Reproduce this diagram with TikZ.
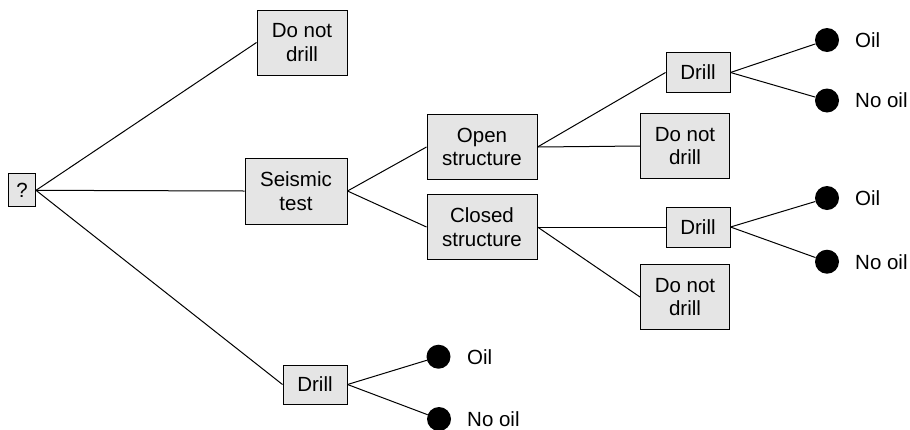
\documentclass[tikz,border=0pt]{standalone}
\usepackage{fontspec}
\setmainfont{Liberation Sans}
\begin{document}
\begin{tikzpicture}[x=1pt,y=-1pt,
  box/.style={draw, line width=1pt, fill=black!10, inner sep=0pt, align=center,
    font=\fontsize{20.5}{23.5}\selectfont},
  leaf/.style={circle, fill=black, inner sep=0pt, minimum size=24pt},
  outcome/.style={anchor=west, inner sep=0pt, font=\fontsize{20.5}{23.5}\selectfont},
  link/.style={line width=1pt}]
\useasboundingbox (0,0) rectangle (910,429);

% decision boxes
\node[box, minimum width=27pt, minimum height=33pt] (q) at (22,190.3) {?};
\node[box, minimum width=90pt, minimum height=65pt] (dnd1) at (302,42.5) {Do not\\drill};
\node[box, minimum width=102pt, minimum height=66pt] (seis) at (296,191) {Seismic\\test};
\node[box, minimum width=64pt, minimum height=39pt] (drill3) at (315,384.5) {Drill};
\node[box, minimum width=110pt, minimum height=65pt] (open) at (482,147) {Open\\structure};
\node[box, minimum width=110pt, minimum height=65pt] (closed) at (482,227) {Closed\\structure};
\node[box, minimum width=64pt, minimum height=40pt] (drill1) at (698,72.5) {Drill};
\node[box, minimum width=89pt, minimum height=65pt] (dnd2) at (685,146) {Do not\\drill};
\node[box, minimum width=64pt, minimum height=40pt] (drill2) at (698,227) {Drill};
\node[box, minimum width=89pt, minimum height=65pt] (dnd3) at (685,297) {Do not\\drill};

% chance outcomes
\node[leaf] (o1) at (827,40) {};
\node[leaf] (n1) at (827,100.5) {};
\node[leaf] (o2) at (827,198) {};
\node[leaf] (n2) at (827,261.7) {};
\node[leaf] (o3) at (438.5,356.7) {};
\node[leaf] (n3) at (439,419) {};

\node[outcome] (lo1) at (855,40) {Oil};
\node[outcome] (ln1) at (855,100.5) {No oil};
\node[outcome] (lo2) at (855,198) {Oil};
\node[outcome] (ln2) at (855,261.7) {No oil};
\node[outcome] (lo3) at (467,356.7) {Oil};
\node[outcome] (ln3) at (467,419) {No oil};

% branches
\draw[link] (q.east) -- (dnd1.west);
\draw[link] (q.east) -- (seis.west);
\draw[link] (q.east) -- (drill3.west);
\draw[link] (seis.east) -- (open.west);
\draw[link] (seis.east) -- (closed.west);
\draw[link] (open.east) -- (drill1.west);
\draw[link] (open.east) -- (dnd2.west);
\draw[link] (closed.east) -- (drill2.west);
\draw[link] (closed.east) -- (dnd3.west);
\draw[link] (drill1.east) -- (o1);
\draw[link] (drill1.east) -- (n1);
\draw[link] (drill2.east) -- (o2);
\draw[link] (drill2.east) -- (n2);
\draw[link] (drill3.east) -- (o3);
\draw[link] (drill3.east) -- (n3);
\end{tikzpicture}
\end{document}
